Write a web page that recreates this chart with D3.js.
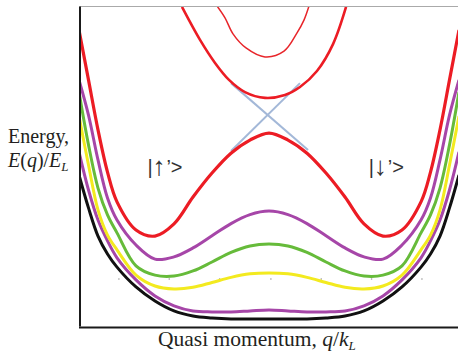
<!DOCTYPE html>
<html>
<head>
<meta charset="utf-8">
<script src="https://cdn.jsdelivr.net/npm/d3@7"></script>
<style>
  html, body { margin: 0; padding: 0; background: #fff; }
  svg { display: block; }
</style>
</head>
<body>
<svg id="chart" width="458" height="362"></svg>
<script>
// ---- data ----
const qGrid = [-2, -1.9, -1.8, -1.7, -1.6, -1.4, -1.2, -1.0, -0.8, -0.6, -0.4, -0.2, 0,
               0.2, 0.4, 0.6, 0.8, 1.0, 1.2, 1.4, 1.6, 1.7, 1.8, 1.9, 2];
const blackE   = [4.72, 3.69, 2.81, 2.25, 1.84, 1.22, 0.78, 0.47, 0.31, 0.25, 0.22, 0.22, 0.22,
                  0.22, 0.22, 0.25, 0.31, 0.47, 0.78, 1.22, 1.84, 2.25, 2.81, 3.69, 4.72];
const purple1E = [5.44, 4.25, 3.31, 2.66, 2.13, 1.44, 0.94, 0.63, 0.47, 0.44, 0.44, 0.47, 0.50,
                  0.47, 0.44, 0.44, 0.47, 0.63, 0.94, 1.44, 2.13, 2.66, 3.31, 4.25, 5.44];
const yellowE  = [6.56, 5.03, 3.63, 2.84, 2.38, 1.59, 1.25, 1.16, 1.21, 1.36, 1.52, 1.63, 1.66,
                  1.63, 1.52, 1.36, 1.21, 1.16, 1.25, 1.59, 2.38, 2.84, 3.63, 5.03, 6.56];
const greenE   = [7.31, 5.66, 4.31, 3.47, 2.91, 1.88, 1.59, 1.56, 1.72, 2.00, 2.30, 2.50, 2.56,
                  2.50, 2.30, 2.00, 1.72, 1.56, 1.59, 1.88, 2.91, 3.47, 4.31, 5.66, 7.31];
const purple2E = [7.69, 6.59, 5.19, 4.00, 3.31, 2.53, 2.09, 2.16, 2.44, 2.82, 3.20, 3.48, 3.59,
                  3.48, 3.20, 2.82, 2.44, 2.16, 2.09, 2.53, 3.31, 4.00, 5.19, 6.59, 7.69];
const redLowE  = [9.25, 7.69, 6.13, 4.81, 3.88, 3.00, 2.81, 3.19, 4.03, 4.78, 5.40, 5.81, 6.03,
                  5.81, 5.40, 4.78, 4.03, 3.19, 2.81, 3.00, 3.88, 4.81, 6.13, 7.69, 9.25];

// upper band (thick red) and third band (thin red)
const redMidQ = [-0.916, -0.726, -0.568, -0.421, -0.253, -0.042, 0.168, 0.326, 0.505, 0.674, 0.811];
const redMidE = [9.97, 8.94, 8.22, 7.69, 7.31, 7.13, 7.22, 7.47, 7.97, 8.81, 9.97];
const redTopQ = [-0.547, -0.463, -0.379, -0.242, -0.042, 0.158, 0.295, 0.368, 0.421];
const redTopE = [10.0, 9.63, 9.13, 8.69, 8.41, 8.59, 9.16, 9.56, 10.0];

// uncoupled (crossing) bands
const crossQ1 = [-0.40, 0.411];
const crossE1 = [7.59, 5.50];
const crossQ2 = [0.326, -0.40];
const crossE2 = [7.59, 5.47];

// faint grid dots
const dotQ = [-1.58, -1.05, -0.52, 0.02, 0.55, 1.08, 1.61];
const dotE = 1.47;

const stateArrows = ["\u2191", "\u2193"];
const stateQ = [-1.28, 1.05];
const stateE = [4.75, 4.75];

// ---- drawing ----
const svg = d3.select("#chart");
const x = d3.scaleLinear().domain([-2, 2]).range([79, 459]);
const y = d3.scaleLinear().domain([0, 10]).range([326, 6]);

svg.append("defs").append("clipPath").attr("id", "plotclip")
  .append("rect").attr("x", 80.5).attr("y", 6).attr("width", 378).attr("height", 319.5);

const plot = svg.append("g").attr("clip-path", "url(#plotclip)");

const line = d3.line()
  .x(d => x(d[0])).y(d => y(d[1]))
  .curve(d3.curveCatmullRom.alpha(0.5));
const straight = d3.line().x(d => x(d[0])).y(d => y(d[1]));

const zip = (qs, es) => qs.map((q, i) => [q, es[i]]);

// faint dots
plot.selectAll("circle.dot").data(dotQ).join("circle")
  .attr("class", "dot")
  .attr("cx", d => x(d)).attr("cy", y(dotE)).attr("r", 0.8)
  .attr("fill", "#9a9a9a");

// crossing lines
[[crossQ1, crossE1], [crossQ2, crossE2]].forEach(([qs, es]) => {
  plot.append("path").attr("d", straight(zip(qs, es)))
    .attr("fill", "none").attr("stroke", "#a3b8d8").attr("stroke-width", 2);
});

const bands = [
  { e: blackE,   color: "#111111", w: 3 },
  { e: purple1E, color: "#a646a8", w: 3 },
  { e: yellowE,  color: "#f3ea1f", w: 3 },
  { e: greenE,   color: "#66bb3a", w: 3 },
  { e: purple2E, color: "#a646a8", w: 3 },
  { e: redLowE,  color: "#ec1c24", w: 3.2 }
];
bands.forEach(b => {
  plot.append("path").attr("d", line(zip(qGrid, b.e)))
    .attr("fill", "none").attr("stroke", b.color)
    .attr("stroke-width", b.w).attr("stroke-linejoin", "round");
});
plot.append("path").attr("d", line(zip(redMidQ, redMidE)))
  .attr("fill", "none").attr("stroke", "#ec1c24").attr("stroke-width", 2.6);
plot.append("path").attr("d", line(zip(redTopQ, redTopE)))
  .attr("fill", "none").attr("stroke", "#e8262b").attr("stroke-width", 1.5);

// frame via axes (no ticks)
svg.append("g").attr("transform", "translate(0,6)")
  .call(d3.axisTop(x).tickValues([]).tickSizeOuter(0))
  .select(".domain").attr("stroke", "#aaaaaa").attr("stroke-width", 1.2);
svg.append("g").attr("transform", "translate(79.5,0)")
  .call(d3.axisLeft(y).tickValues([]).tickSizeOuter(0))
  .select(".domain").attr("stroke", "#1a1a1a").attr("stroke-width", 2);
svg.append("g").attr("transform", "translate(0,327)")
  .call(d3.axisBottom(x.copy().range([78.5, 459])).tickValues([]).tickSizeOuter(0))
  .select(".domain").attr("stroke", "#1a1a1a").attr("stroke-width", 2);

// state labels  |↑'>  |↓'>  (pieces as separate texts)
const sans = "'Liberation Sans', Arial, sans-serif";
const sg = svg.selectAll("g.state").data(stateArrows).join("g")
  .attr("class", "state")
  .attr("transform", (d, i) => `translate(${x(stateQ[i])},${y(stateE[i])})`)
  .attr("fill", "#333");
sg.append("text").attr("x", 0).attr("font-family", sans).attr("font-size", 20).text("|");
sg.append("text").attr("x", 5).attr("y", 1)
  .attr("font-family", sans).attr("font-size", 26)
  .text(d => d);
sg.append("text").attr("x", 19).attr("font-family", sans).attr("font-size", 20).text("\u2019>");

// axis titles
const serif = "'Liberation Serif', 'Times New Roman', serif";
svg.append("text").attr("x", 8).attr("y", 143)
  .attr("font-family", serif).attr("font-size", 20).attr("fill", "#231f20")
  .text("Energy,");
const yl = svg.append("text").attr("x", 8).attr("y", 167)
  .attr("font-family", serif).attr("font-size", 20).attr("fill", "#231f20");
yl.append("tspan").attr("font-style", "italic").text("E");
yl.append("tspan").text("(");
yl.append("tspan").attr("font-style", "italic").text("q");
yl.append("tspan").text(")/");
yl.append("tspan").attr("font-style", "italic").text("E");
yl.append("tspan").attr("font-style", "italic").attr("font-size", 13).attr("dy", 4).text("L");

const xl = svg.append("text").attr("x", 158).attr("y", 346)
  .attr("font-family", serif).attr("font-size", 21.5).attr("fill", "#231f20");
xl.append("tspan").text("Quasi momentum, ");
xl.append("tspan").attr("font-style", "italic").text("q");
xl.append("tspan").text("/");
xl.append("tspan").attr("font-style", "italic").text("k");
xl.append("tspan").attr("font-style", "italic").attr("font-size", 13).attr("dy", 4).text("L");
</script>
</body>
</html>
